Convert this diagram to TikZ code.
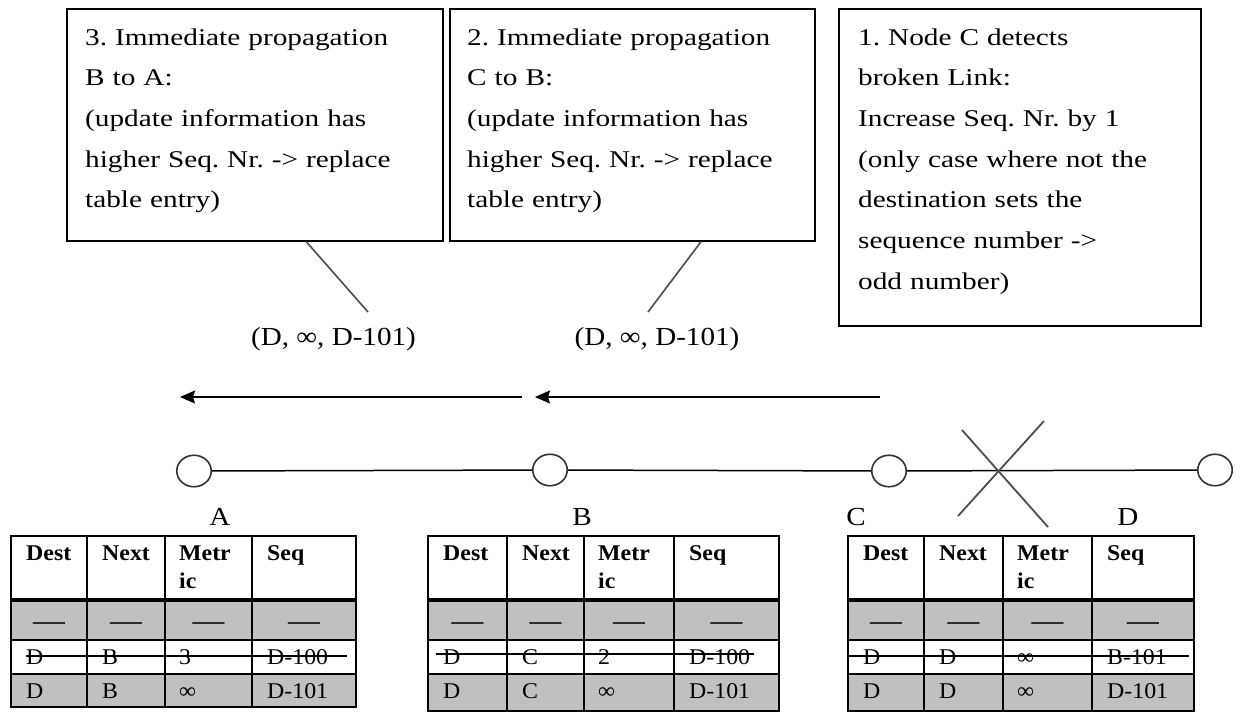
\documentclass[tikz,border=0pt]{standalone}
\usepackage{fontspec}
\setmainfont{Liberation Serif}
\newfontfamily\notefont{Liberation Serif}[FakeStretch=1.22]
\newfontfamily\markfont{Liberation Serif}[FakeStretch=1.12]
\newfontfamily\cellfont{Liberation Serif}[FakeStretch=1.06]
\usetikzlibrary{arrows.meta,shapes.geometric,calc}
\frenchspacing

\definecolor{cellgray}{HTML}{C0C0C0}
\definecolor{wire}{HTML}{333333}
\definecolor{pointer}{HTML}{4D4D4D}

\tikzset{
  notebox/.style={draw=black, line width=1.5pt, fill=white, inner sep=0pt, rectangle},
  notetext/.style={anchor=base west, inner sep=0pt, align=left, text width=#1,
    font=\notefont\fontsize{24}{40.7}\selectfont},
  station/.style={ellipse, draw=wire, line width=1.6pt, fill=white,
    minimum width=34.5pt, minimum height=31.5pt, inner sep=0pt},
  stationname/.style={anchor=base, inner sep=0pt, font=\markfont\fontsize{26}{26}\selectfont},
  update/.style={anchor=base, inner sep=0pt, font=\markfont\fontsize{26}{26}\selectfont},
  link/.style={draw=black, line width=1.5pt},
  flow/.style={draw=black, line width=1.5pt, -{Stealth[length=15pt,width=13pt,inset=2pt]}},
  callout/.style={draw=pointer, line width=1.6pt},
  cut/.style={draw=pointer, line width=1.8pt},
  grid/.style={draw=black, line width=1.6pt},
  headrule/.style={draw=black, line width=4.5pt},
  strike/.style={draw=black, line width=1.3pt},
  hdr/.style={anchor=base west, inner sep=0pt, align=left, text width=70pt,
    font=\cellfont\bfseries\fontsize{22.5}{28.5}\selectfont},
  cell/.style={anchor=base west, inner sep=0pt, font=\cellfont\fontsize{22.5}{28.5}\selectfont},
  dashcell/.style={anchor=base, inner sep=0pt, font=\cellfont\fontsize{30}{30}\selectfont}
}

% Routing table: #1..#5 column borders, #6 bottom edge,
% #7 next hop, #8 old metric, #9 old sequence number
\newcommand{\routetable}[9]{%
  \fill[cellgray] (#1,602) rectangle (#5,640);
  \fill[cellgray] (#1,674) rectangle (#5,#6);
  \draw[grid] (#1,640) -- (#5,640) (#1,674) -- (#5,674);
  \draw[grid] (#2,536) -- (#2,#6) (#3,536) -- (#3,#6) (#4,536) -- (#4,#6);
  \draw[headrule] (#1,600) -- (#5,600);
  \draw[grid] (#1,536) rectangle (#5,#6);
  \node[hdr] at (#1+15,560) {Dest};
  \node[hdr] at (#2+15,560) {Next};
  \node[hdr] at (#3+14,560) {Metr\\ic};
  \node[hdr] at (#4+15,560) {Seq};
  \node[dashcell] at ({(#1+#2)/2},630) {—};
  \node[dashcell] at ({(#2+#3)/2},630) {—};
  \node[dashcell] at ({(#3+#4)/2},630) {—};
  \node[dashcell] at ({(#4+#5)/2},630) {—};
  \node[cell] at (#1+15,664) {D};
  \node[cell] at (#2+15,664) {#7};
  \node[cell] at (#3+14,664) {#8};
  \node[cell] at (#4+15,664) {#9};
  \node[cell] at (#1+15,698) {D};
  \node[cell] at (#2+15,698) {#7};
  \node[cell] at (#3+14,698) {∞};
  \node[cell] at (#4+15,698) {D-101};
}

\begin{document}
\begin{tikzpicture}[x=1pt, y=-1pt]
\useasboundingbox (0,0) rectangle (1240,720);
\fill[white] (0,0) rectangle (1240,720);

% explanation boxes
\node[notebox, minimum width=376pt, minimum height=232pt, anchor=north west] (n3) at (66,8) {};
\node[notebox, minimum width=365pt, minimum height=232pt, anchor=north west] (n2) at (449,8) {};
\node[notebox, minimum width=362pt, minimum height=317pt, anchor=north west] (n1) at (838,8) {};

\node[notetext=350pt] (t3) at (85,45) {3. Immediate propagation\\B to A:\\(update information has\\higher Seq. Nr. -> replace\\table entry)};
\node[notetext=340pt] (t2) at (467,45) {2. Immediate propagation\\C to B:\\(update information has\\higher Seq. Nr. -> replace\\table entry)};
\node[notetext=340pt] (t1) at (858,45) {1. Node C detects\\broken Link:\\Increase Seq. Nr. by 1\\(only case where not the\\destination sets the\\sequence number ->\\odd number)};

% update messages
\node[update] (u3) at (333.5,345) {(D, ∞, D-101)};
\node[update] (u2) at (657,345) {(D, ∞, D-101)};

\coordinate (p3) at (368,312);
\coordinate (p2) at (648,312);
\draw[callout] ($(n3.south west)!0.636!(n3.south east)$) -- (p3);
\draw[callout] ($(n2.south west)!0.688!(n2.south east)$) -- (p2);

% propagation direction
\coordinate (f1s) at (880,397);
\coordinate (f1e) at (535,397);
\coordinate (f2s) at (522,397);
\coordinate (f2e) at (180,397);
\draw[flow] (f1s) -- (f1e);
\draw[flow] (f2s) -- (f2e);

% network
\node[station] (A) at (194,471) {};
\node[station] (B) at (550,470) {};
\node[station] (C) at (889,471) {};
\node[station] (D) at (1215,470) {};
\draw[link] (A) -- (B);
\draw[link] (B) -- (C);
\draw[link] (C) -- (D);

% broken link
\draw[cut] (962,430) -- (1048,527);
\draw[cut] (1044,421) -- (958,516);

\node[stationname] (lA) at (220,525) {A};
\node[stationname] (lB) at (582,525) {B};
\node[stationname] (lC) at (856,525) {C};
\node[stationname] (lD) at (1128,525) {D};

% routing tables
\routetable{11}{87}{165}{252}{356}{707}{B}{3}{D-100}
\routetable{428}{507}{584}{674}{779}{711}{C}{2}{D-100}
\routetable{848}{924}{1003}{1092}{1194}{711}{D}{∞}{B-101}

\draw[strike] (26,656) -- (347,656);
\draw[strike] (436,654) -- (754,654);
\draw[strike] (849,656) -- (1189,656);
\end{tikzpicture}
\end{document}
